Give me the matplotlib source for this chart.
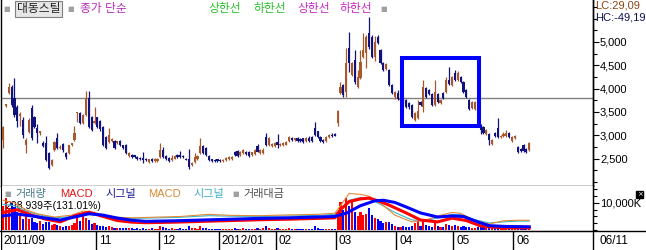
import matplotlib
matplotlib.use("Agg")
import matplotlib.pyplot as plt
from matplotlib.patches import Rectangle
from matplotlib.ticker import FuncFormatter, MultipleLocator, FixedLocator

plt.rcParams['font.family'] = ['Liberation Sans', 'Noto Sans CJK KR']

# 일봉 (2011/09 ~ 2012/06/11)
opens = [2900, 3630, 3900, 4030, 3800, 3600, 3420, 3330, 2790, 3070,
         3580, 3390, 3150, 3050, 2830, 2830, 2620, 2360, 2680, 2940,
         2720, 2810, 2620, 2620, 2790, 2900, 3470, 3475, 3260, 3430,
         3800, 3390, 3260, 3390, 3300, 3180, 2960, 2850, 2870, 2880,
         2840, 2870, 2790, 2790, 2550, 2570, 2560, 2540, 2510, 2520,
         2500, 2420, 2500, 2450, 2450, 2530, 2680, 2560, 2510, 2470,
         2500, 2580, 2570, 2560, 2500, 2490, 2350, 2430, 2480, 2620,
         2760, 2720, 2560, 2480, 2470, 2480, 2470, 2450, 2460, 2480,
         2490, 2640, 2660, 2580, 2620, 2640, 2650, 2570, 2600, 2760,
         2620, 2620, 2960, 2790, 2760, 2770, 2850, 2780, 2790, 2800,
         2880, 2950, 2900, 2940, 2920, 2930, 2880, 2950, 2970, 3150,
         3080, 2960, 2900, 2880, 2960, 3000, 3030, 3260, 3910, 4080,
         3930, 4870, 4300, 4610, 4030, 4230, 4680, 4760, 5200, 5110,
         4680, 5110, 4830, 4550, 4420, 4400, 4080, 3820, 3910, 3760,
         3800, 3760, 3700, 3650, 3330, 3370, 3710, 3600, 4010, 3970,
         3880, 3650, 3880, 3700, 3910, 3930, 4180, 4080, 4330, 4180,
         4250, 4140, 3970, 3760, 3590, 3560, 3710, 3200, 3180, 3030,
         3030, 2810, 3050, 3150, 2960, 2980, 2990, 3040, 2880, 2930,
         2750, 2710, 2790, 2710, 2690]
highs = [3200, 3680, 4120, 4080, 4230, 3650, 3500, 3380, 2950, 3360,
         3650, 3420, 3250, 3100, 2870, 2990, 2650, 2480, 2870, 3050,
         2780, 2830, 2640, 2800, 2840, 3200, 3500, 3490, 3450, 3950,
         3950, 3420, 3600, 3400, 3320, 3200, 2980, 3150, 2940, 2900,
         2880, 2890, 2800, 2810, 2630, 2590, 2580, 2560, 2530, 2650,
         2520, 2500, 2520, 2520, 2510, 2830, 2750, 2580, 2530, 2570,
         2580, 2600, 2660, 2580, 2510, 2700, 2420, 2610, 2580, 2940,
         2790, 2740, 2580, 2500, 2490, 2500, 2490, 2480, 2530, 2550,
         2560, 2660, 2680, 2660, 2700, 2660, 2670, 2650, 2700, 2810,
         2710, 2720, 3050, 2960, 2840, 2850, 3030, 2840, 2860, 2870,
         2990, 2970, 2950, 2960, 2940, 2950, 2960, 2980, 2990, 3280,
         3100, 2980, 2920, 2980, 3020, 3040, 3050, 3540, 4140, 4100,
         4870, 5215, 4570, 4830, 4400, 4830, 5200, 5150, 5530, 5150,
         5130, 5140, 4850, 4570, 4550, 4420, 4100, 3950, 3980, 3830,
         3820, 3780, 3720, 3680, 3500, 3750, 3730, 4180, 4030, 3990,
         3900, 4180, 3900, 3780, 3930, 4250, 4460, 4270, 4400, 4380,
         4270, 4160, 3990, 3780, 3740, 3730, 3730, 3240, 3200, 3130,
         3050, 2920, 3070, 3370, 3010, 3070, 3110, 3060, 2980, 3000,
         2770, 2730, 2810, 2730, 2850]
lows = [2730, 3600, 3880, 3600, 3390, 3180, 3200, 2950, 2620, 3050,
        2900, 3150, 2830, 3000, 2740, 2450, 2280, 2340, 2660, 2700,
        2700, 2650, 2500, 2600, 2760, 2880, 3280, 3240, 3240, 3420,
        3150, 3080, 3240, 3160, 3100, 2770, 2700, 2830, 2850, 2700,
        2820, 2760, 2700, 2600, 2530, 2510, 2510, 2470, 2470, 2400,
        2440, 2400, 2420, 2430, 2430, 2510, 2510, 2470, 2430, 2450,
        2480, 2510, 2510, 2510, 2460, 2275, 2330, 2410, 2460, 2600,
        2600, 2560, 2450, 2420, 2420, 2430, 2430, 2430, 2440, 2460,
        2470, 2560, 2540, 2560, 2600, 2580, 2540, 2550, 2580, 2630,
        2600, 2600, 2770, 2770, 2740, 2750, 2720, 2760, 2770, 2780,
        2860, 2880, 2870, 2860, 2850, 2840, 2860, 2860, 2860, 2980,
        2940, 2860, 2840, 2860, 2940, 2960, 2980, 3190, 3880, 3820,
        3820, 4350, 4280, 4100, 4010, 4200, 4660, 4440, 4850, 4650,
        4600, 4960, 4530, 4380, 4400, 4060, 3890, 3780, 3760, 3700,
        3680, 3580, 3560, 3370, 3300, 3350, 3630, 3500, 3800, 3860,
        3630, 3630, 3700, 3680, 3780, 3910, 4080, 4060, 4160, 4160,
        4120, 3910, 3800, 3540, 3570, 3540, 3480, 3030, 3030, 3010,
        2800, 2790, 2970, 2940, 2940, 2960, 2970, 2940, 2860, 2910,
        2620, 2640, 2640, 2620, 2670]
closes = [3180, 3660, 4030, 3650, 3430, 3300, 3460, 3000, 2900, 3330,
          2940, 3180, 3050, 3080, 2760, 2470, 2300, 2470, 2850, 2720,
          2750, 2680, 2530, 2790, 2830, 3050, 3480, 3260, 3430, 3800,
          3180, 3110, 3300, 3180, 3130, 2790, 2720, 3000, 2920, 2720,
          2860, 2780, 2720, 2620, 2610, 2530, 2540, 2490, 2480, 2470,
          2460, 2480, 2440, 2500, 2490, 2680, 2530, 2490, 2450, 2510,
          2560, 2530, 2530, 2530, 2470, 2320, 2400, 2530, 2560, 2770,
          2620, 2580, 2470, 2440, 2440, 2450, 2450, 2460, 2510, 2530,
          2540, 2580, 2560, 2640, 2680, 2600, 2560, 2630, 2680, 2650,
          2690, 2690, 2790, 2940, 2820, 2830, 2780, 2820, 2840, 2850,
          2960, 2900, 2930, 2880, 2870, 2860, 2940, 2880, 2880, 3000,
          2960, 2880, 2860, 2960, 3000, 2980, 2990, 3520, 4030, 3860,
          4550, 4550, 4550, 4140, 4250, 4570, 4830, 5110, 4900, 4680,
          5010, 4980, 4550, 4400, 4530, 4080, 3910, 3930, 3780, 3800,
          3700, 3600, 3600, 3390, 3480, 3520, 3650, 4030, 3820, 3880,
          3650, 3930, 3720, 3760, 3800, 4180, 4100, 4250, 4180, 4330,
          4140, 3930, 3820, 3560, 3720, 3710, 3500, 3110, 3050, 3110,
          2900, 2900, 2990, 2960, 2990, 3030, 3040, 2960, 2960, 2980,
          2640, 2660, 2660, 2640, 2830]

# 거래량 (천주)
volume = [9000, 11800, 8000, 10500, 8500, 6500,
          5200, 4200, 5300, 4000, 4600, 3000,
          2500, 3200, 2200, 2800, 3000, 1800,
          2200, 2000, 1500, 1200, 1500, 1300,
          1800, 2600, 4800, 3200, 5200, 4600,
          3800, 2200, 2500, 1800, 1500, 1600,
          1200, 1500, 1000, 900, 800, 900,
          700, 900, 600, 700, 500, 600,
          500, 800, 500, 400, 600, 500,
          400, 1400, 1000, 600, 500, 600,
          500, 400, 600, 400, 300, 1300,
          600, 700, 500, 1500, 900, 700,
          500, 400, 300, 400, 300, 300,
          400, 500, 400, 700, 500, 400,
          600, 400, 500, 400, 500, 800,
          500, 600, 1600, 900, 500, 400,
          900, 400, 300, 400, 700, 500,
          400, 500, 300, 400, 500, 400,
          400, 1500, 800, 500, 400, 500,
          400, 500, 300,
          5000, 10500, 7500, 11800, 9000, 10800,
          6500, 5000, 6800, 5500, 6000, 8000,
          5500, 4500, 4200, 3500, 2500, 3000,
          3000, 2200, 1500, 1200, 1000, 1300,
          1200, 1000, 1500, 2500, 3500, 1500,
          3200, 2000, 1500, 1200, 2500, 1300,
          1000, 1200, 2300, 2000, 1500, 1800,
          1500, 1200, 1300, 1000, 1200, 800,
          900, 1000, 1500, 1100, 900, 1000,
          700, 800, 900, 700, 600, 700,
          600, 700, 800, 1200, 900, 600,
          500, 700]

# 거래량 MACD / 시그널
sig_idx = [0, 5, 10, 15, 20, 25, 30, 35, 40, 45, 50, 60, 70, 80, 90, 100, 110,
           116, 120, 125, 130, 133, 137, 141, 146, 152, 157, 161, 166, 170, 176, 184]
sig_blue = [5200, 5900, 5200, 4400, 3700, 4800, 6000, 5500, 4400, 3600, 3200, 3400,
            3700, 4000, 4300, 4500, 4800, 5000, 6200, 9000, 10800, 11000, 10200,
            8500, 6300, 4800, 5200, 5000, 3000, 1600, 1300, 1200]
macd_idx = [0, 5, 10, 15, 20, 25, 30, 35, 40, 45, 50, 60, 70, 80, 90, 100, 110,
            116, 118, 121, 125, 128, 132, 135, 141, 146, 152, 157, 162, 167, 172, 178, 184]
macd_red = [6500, 7500, 5500, 4000, 3000, 5200, 6600, 5000, 3500, 2900, 2700, 2900,
            3200, 3500, 3800, 4000, 4300, 4500, 7500, 10500, 11500, 11800, 10500,
            9200, 6300, 3700, 3000, 4400, 3500, 1500, 1000, 800, 800]
thin_idx = [0, 4, 8, 12, 18, 24, 28, 32, 38, 45, 55, 62, 72, 80, 90, 100, 110, 116,
            118, 121, 125, 128, 132, 137, 143, 148, 152, 157, 160, 165, 170, 175, 180, 184]
macd_orange = [11000, 10000, 7500, 6000, 4800, 5500, 7000, 6500, 4800, 4500, 4800,
               5000, 5800, 5400, 5300, 5600, 5800, 6200, 9000, 13500, 13200, 12500,
               10000, 5500, 3000, 3700, 5200, 6500, 6200, 3500, 2200, 3400, 3600, 3600]
sig_cyan = [9500, 9000, 7000, 5800, 4500, 5000, 6300, 6200, 4800, 4300, 4500, 4700,
            5300, 5100, 5000, 5200, 5400, 5800, 7500, 11000, 12000, 11500, 9500, 6500,
            3700, 3500, 4500, 5800, 5700, 3800, 2600, 3000, 3300, 3300]

# 월 구분 (봉 위치) 과 라벨
month_idx = [0, 33, 55, 76, 96, 117, 138, 158, 179]
month_labels = ['2011/09', '11', '12', '2012/01', '02', '03', '04', '05', '06']

ref_line = 3800
box = (139.5, 3208, 166.3, 4667)  # 관심 구간 박스 (x0, y0, x1, y1)

W, H = 646, 250
UP, DOWN = '#a8582a', '#12127e'

fig = plt.figure(figsize=(W / 100, H / 100), dpi=100)
xlim = (-0.7, 206.3)

# ---- 가격 차트
ax = fig.add_axes([1 / W, 64 / H, 592 / W, 186 / H])
n = len(closes)
xs = list(range(n))
cols = [UP if c >= o else DOWN for o, c in zip(opens, closes)]
ax.vlines(xs, lows, highs, colors=cols, lw=0.9, zorder=2)
bottoms = [min(o, c) for o, c in zip(opens, closes)]
heights = [max(abs(c - o), 25) for o, c in zip(opens, closes)]
ax.bar(xs, heights, bottom=bottoms, width=0.75, color=cols, lw=0, zorder=3)
ax.axhline(ref_line, color='#808080', lw=1, zorder=1)
ax.add_patch(Rectangle((box[0], box[1]), box[2] - box[0], box[3] - box[1],
                       fill=False, ec='#0000ff', lw=2.9, zorder=4))
ax.set_xlim(*xlim)
ax.set_ylim(1910, 5901)
ax.yaxis.tick_right()
ax.yaxis.set_major_locator(FixedLocator([2500, 3000, 3500, 4000, 4500, 5000]))
ax.yaxis.set_minor_locator(MultipleLocator(250))
ax.yaxis.set_major_formatter(FuncFormatter(lambda v, p: f'{v:,.0f}'))
ax.tick_params(axis='y', which='major', length=4, width=0.8, pad=1, labelsize=8)
ax.tick_params(axis='y', which='minor', length=3, width=0.8)
ax.set_xticks([])
ax.spines['top'].set_visible(False)
for s in ['left', 'right', 'bottom']:
    ax.spines[s].set_linewidth(1)

# ---- 거래량 / MACD
ax2 = fig.add_axes([1 / W, 19 / H, 592 / W, 45 / H])
vcols = ['#ff0000' if c >= o else '#0000ff' for o, c in zip(opens, closes)]
ax2.bar(xs, volume, width=0.75, color=vcols, lw=0, zorder=2)
ax2.plot(thin_idx, sig_cyan, color='#3cb4c8', lw=0.8, zorder=3)
ax2.plot(thin_idx, macd_orange, color='#e08a3a', lw=0.8, zorder=3)
ax2.plot(macd_idx, macd_red, color='#ff0000', lw=2.2, zorder=4)
ax2.plot(sig_idx, sig_blue, color='#0000ff', lw=2.2, zorder=5)
ax2.set_xlim(*xlim)
ax2.set_ylim(-370, 16280)
ax2.yaxis.tick_right()
ax2.yaxis.set_major_locator(FixedLocator([10000]))
ax2.yaxis.set_minor_locator(FixedLocator([0, 2500, 5000, 7500, 12500, 15000]))
ax2.yaxis.set_major_formatter(FuncFormatter(lambda v, p: f'{v:,.0f}K'))
ax2.tick_params(axis='y', which='major', length=4, width=0.8, pad=1, labelsize=8)
ax2.tick_params(axis='y', which='minor', length=3, width=0.8)
ax2.set_xticks([])
ax2.spines['top'].set_visible(False)
ax2.text(1, 8700, '298,939주(131.01%)', fontsize=7.5, color='black', zorder=1,
         va='center')

# ---- 날짜 축
ax3 = fig.add_axes([1 / W, 0, 592 / W, 19 / H])
ax3.set_xlim(*xlim)
ax3.set_ylim(0, 1)
ax3.axis('off')
for i, lab in zip(month_idx, month_labels):
    xp = i - 0.5 if i > 0 else xlim[0]
    ax3.vlines(xp, 0, 1, color='black', lw=1)
    ax3.annotate(lab, (xp, 0.5), xytext=(2, 0), textcoords='offset points',
                 va='center', ha='left', fontsize=8.5)
fig.add_artist(plt.Line2D([593 / W, 593 / W], [0, 1], color='black', lw=1))
fig.add_artist(plt.Line2D([0, 1], [19 / H, 19 / H], color='black', lw=1))
fig.text(600 / W, 9.5 / H, '06/11', fontsize=8.5, va='center')

# ---- 상단 범례
def fy(y):
    return 1 - y / H

def square(x, y):
    fig.text(x / W, fy(y), '■', fontsize=5, color='#a0a0a0', va='center',
             family='DejaVu Sans')

square(3, 9)
fig.text(17 / W, fy(9), '대동스틸', fontsize=8.5, color='#202020', va='center',
         bbox=dict(boxstyle='square,pad=0.15', fc='#e6e6e6', ec='#808080', lw=0.8))
square(67, 9)
fig.text(80 / W, fy(9), '종가 단순', fontsize=8.5, color='#b42cb4', va='center')
fig.text(208 / W, fy(9), '상한선', fontsize=8.5, color='#2cc02c', va='center')
fig.text(253 / W, fy(9), '하한선', fontsize=8.5, color='#2cc02c', va='center')
fig.text(297 / W, fy(9), '상한선', fontsize=8.5, color='#c82cc8', va='center')
fig.text(340 / W, fy(9), '하한선', fontsize=8.5, color='#c82cc8', va='center')
square(380, 9)
fig.text(595 / W, fy(6), 'LC:29,09', fontsize=8, color='#8b4513', va='center')
fig.text(595 / W, fy(17), 'HC:-49,19', fontsize=8, color='#10105a', va='center')

# ---- 하단 범례
square(4, 194)
fig.text(15 / W, fy(194), '거래량', fontsize=8, color='#4a7a8a', va='center')
fig.text(60 / W, fy(194), 'MACD', fontsize=8, color='#e01818', va='center')
fig.text(105 / W, fy(194), '시그널', fontsize=8, color='#1a1a9a', va='center')
fig.text(148 / W, fy(194), 'MACD', fontsize=8, color='#d88a38', va='center')
fig.text(193 / W, fy(194), '시그널', fontsize=8, color='#3cb0c0', va='center')
square(232, 194)
fig.text(243 / W, fy(194), '거래대금', fontsize=8, color='#505050', va='center')

# 닫기 아이콘
fig.add_artist(Rectangle((636 / W, fy(198)), 7 / W, 7 / H, fc='black', ec='black',
                         transform=fig.transFigure))
fig.text(639.5 / W, fy(194.5), '×', fontsize=5, color='white', ha='center',
         va='center', family='DejaVu Sans')

fig.savefig('out.png', dpi=100)
